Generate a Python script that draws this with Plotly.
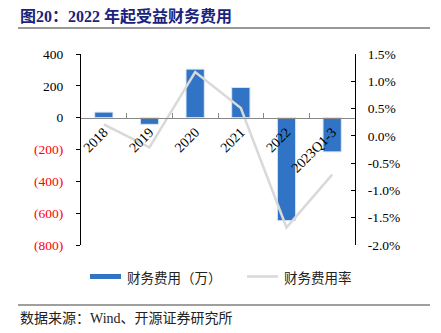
import plotly.graph_objects as go

categories = ["2018", "2019", "2020", "2021", "2022", "2023Q1-3"]
expense = [35, -42, 305, 190, -647, -215]          # 财务费用（万）
rate = [0.21, -0.21, 1.17, 0.51, -1.68, -0.71]      # 财务费用率 (%)

left_ticks = [400, 200, 0, -200, -400, -600, -800]
right_ticks = [1.5, 1.0, 0.5, 0.0, -0.5, -1.0, -1.5, -2.0]

W, H = 441, 333
L, R, T, B = 81, 86, 54, 88
PW, PH = W - L - R, H - T - B

def px(x):
    return (x - L) / PW

def py(y):
    return (H - B - y) / PH

BLUE = "#3174C6"
GRAY = "#D9D9D9"
SERIF = "Liberation Serif, Noto Sans CJK SC, serif"
CJK = "Noto Sans CJK SC, sans-serif"

def fmt_left(v):
    if v < 0:
        return "<span style='color:#FF0000'>(%d)</span>" % (-v)
    return "%d" % v

fig = go.Figure()
fig.add_trace(go.Bar(x=categories, y=expense, marker=dict(color=BLUE, line=dict(color="#DCE8F7", width=1)),
                     width=0.4, xaxis="x", yaxis="y", showlegend=False, name="财务费用（万）"))
fig.add_trace(go.Scatter(x=categories, y=rate, mode="lines", line=dict(color=GRAY, width=2.5),
                         xaxis="x", yaxis="y2", showlegend=False, name="财务费用率"))

ymin, ymax = -800, 400
fig.update_layout(
    width=W, height=H, autosize=False,
    margin=dict(l=L, r=R, t=T, b=B, pad=0),
    paper_bgcolor="white", plot_bgcolor="white",
    font=dict(family=SERIF, size=13, color="black"),
    xaxis=dict(type="category", range=[-0.5, 5.5], anchor="free", position=(0 - ymin) / (ymax - ymin),
               showline=True, linecolor="#888888", linewidth=1, ticks="inside", ticklen=5,
               tickcolor="#888888", tickson="boundaries", tickangle=-45, showgrid=False,
               tickfont=dict(family=SERIF, size=14), automargin=False, zeroline=False),
    yaxis=dict(range=[ymin, ymax], tickvals=left_ticks, ticktext=[fmt_left(v) for v in left_ticks],
               showline=True, linecolor="black", linewidth=1, ticks="outside", ticklen=4,
               tickcolor="black", showgrid=False, zeroline=False, automargin=False,
               ticklabelstandoff=10, tickfont=dict(family=SERIF, size=13.5), domain=[0, 1]),
    yaxis2=dict(range=[-2.0, 1.5], overlaying="y", side="right", anchor="x",
                tickvals=right_ticks, ticktext=["%.1f%%" % v for v in right_ticks],
                showline=True, linecolor="black", linewidth=1, ticks="inside", ticklen=4,
                tickcolor="black", showgrid=False, zeroline=False, automargin=False,
                ticklabelstandoff=9, tickfont=dict(family=SERIF, size=13.5)),
)

shapes = [
    dict(type="line", xref="paper", yref="paper", x0=px(18), x1=px(430), y0=py(28), y1=py(28),
         line=dict(color="#333333", width=1)),
    dict(type="line", xref="paper", yref="paper", x0=px(18), x1=px(430), y0=py(305), y1=py(305),
         line=dict(color="#7F7F7F", width=1.5)),
    dict(type="rect", xref="paper", yref="paper", x0=px(90), x1=px(121), y0=py(279), y1=py(274),
         fillcolor=BLUE, line=dict(width=0)),
    dict(type="line", xref="paper", yref="paper", x0=px(247), x1=px(278), y0=py(276.5), y1=py(276.5),
         line=dict(color=GRAY, width=2.5)),
]
annotations = [
    dict(text="<b>图20：2022 年起受益财务费用</b>", xref="paper", yref="paper", x=px(18), y=py(16),
         xanchor="left", yanchor="middle", showarrow=False,
         font=dict(family="Liberation Serif, Noto Sans CJK SC", size=16, color="#1B237A")),
    dict(text="财务费用（万）", xref="paper", yref="paper", x=px(125), y=py(276.5),
         xanchor="left", yanchor="middle", showarrow=False, font=dict(family=CJK, size=13.5, color="#222")),
    dict(text="财务费用率", xref="paper", yref="paper", x=px(282), y=py(276.5),
         xanchor="left", yanchor="middle", showarrow=False, font=dict(family=CJK, size=13.5, color="#222")),
    dict(text="数据来源：Wind、开源证券研究所", xref="paper", yref="paper", x=px(18), y=py(318),
         xanchor="left", yanchor="middle", showarrow=False,
         font=dict(family="Liberation Serif, Noto Sans CJK SC", size=14, color="#222")),
]
fig.update_layout(shapes=shapes, annotations=annotations)

fig.write_html("out.html")
